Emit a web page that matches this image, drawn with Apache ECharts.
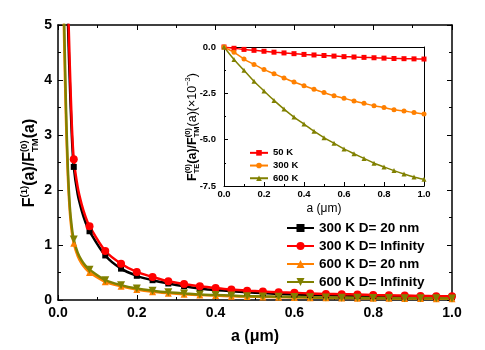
<!DOCTYPE html>
<html>
<head>
<meta charset="utf-8">
<script src="https://cdn.jsdelivr.net/npm/echarts@6/dist/echarts.min.js"></script>
<style>html,body{margin:0;padding:0;background:#fff;}#c{width:485px;height:350px;}</style>
</head>
<body>
<div id="c"></div>
<script>
// ---- main plot data ----
const markerX = [0.04,0.08,0.12,0.16,0.20,0.24,0.28,0.32,0.36,0.40,0.44,0.48,0.52,0.56,0.60,0.64,0.68,0.72,0.76,0.80,0.84,0.88,0.92,0.96,1.00];
const black20nm = [2.42,1.25,0.81,0.57,0.44,0.36,0.30,0.25,0.21,0.18,0.16,0.14,0.125,0.11,0.10,0.09,0.085,0.08,0.075,0.07,0.065,0.06,0.055,0.05,0.048];
const red300Inf = [2.56,1.34,0.89,0.66,0.51,0.42,0.34,0.29,0.25,0.22,0.19,0.17,0.155,0.14,0.13,0.12,0.11,0.105,0.10,0.09,0.085,0.08,0.075,0.07,0.066];
const orange20nm = [1.03,0.50,0.33,0.25,0.19,0.15,0.125,0.105,0.09,0.08,0.07,0.062,0.056,0.05,0.046,0.042,0.039,0.036,0.034,0.032,0.030,0.028,0.026,0.025,0.024];
const olive600Inf = [1.10,0.55,0.36,0.27,0.21,0.17,0.14,0.12,0.10,0.09,0.08,0.07,0.065,0.06,0.055,0.05,0.045,0.043,0.04,0.037,0.035,0.033,0.031,0.03,0.028];
// extra line-only points (steep rise near a = 0, and between first markers)
const blackHeadX = [0.024,0.027,0.03,0.035,0.05,0.06,0.07];
const blackHeadY = [5.4,4.6,3.95,3.0,1.92,1.63,1.41];
const redHeadX = [0.024,0.027,0.03,0.035,0.05,0.06,0.07];
const redHeadY = [5.7,5.0,4.25,3.2,2.05,1.74,1.51];
const orangeHeadX = [0.014,0.016,0.02,0.025,0.03,0.035,0.05,0.06,0.07];
const orangeHeadY = [5.3,4.6,3.35,2.25,1.6,1.24,0.80,0.66,0.57];
const oliveHeadX = [0.014,0.016,0.02,0.025,0.03,0.035,0.05,0.06,0.07];
const oliveHeadY = [5.6,4.95,3.6,2.4,1.7,1.33,0.86,0.72,0.62];
const mainNames = ['300 K D= 20 nm','300 K D= Infinity','600 K D= 20 nm','600 K D= Infinity'];

// ---- inset data ----
const insetX = [0,0.05,0.10,0.15,0.20,0.25,0.30,0.35,0.40,0.45,0.50,0.55,0.60,0.65,0.70,0.75,0.80,0.85,0.90,0.95,1.00];
const inset50K = [0,-0.07,-0.13,-0.18,-0.23,-0.28,-0.32,-0.36,-0.40,-0.43,-0.46,-0.49,-0.52,-0.54,-0.56,-0.58,-0.60,-0.62,-0.63,-0.64,-0.65];
const inset300K = [0,-0.29,-0.65,-0.94,-1.22,-1.44,-1.67,-1.89,-2.09,-2.28,-2.46,-2.63,-2.77,-2.91,-3.04,-3.17,-3.27,-3.38,-3.45,-3.54,-3.62];
const inset600K = [0,-0.67,-1.26,-1.85,-2.37,-2.88,-3.35,-3.78,-4.16,-4.54,-4.89,-5.19,-5.50,-5.76,-6.01,-6.27,-6.47,-6.67,-6.85,-7.01,-7.14];
const insetNames = ['50 K','300 K','600 K'];

const FONT = "'Liberation Sans', Arial, Helvetica, sans-serif";

function buildMain(mx, my, hx, hy) {
  const pts = [];
  for (let i = 0; i < hx.length; i++) pts.push({value:[hx[i], hy[i]], symbol:'none'});
  for (let i = 0; i < mx.length; i++) pts.push({value:[mx[i], my[i]]});
  pts.sort((a,b) => a.value[0] - b.value[0]);
  return pts;
}
function zipXY(xs, ys){ return xs.map((x,i)=>[x, ys[i]]); }

const chart = echarts.init(document.getElementById('c'), null, {renderer:'canvas'});

const mainSeriesDefs = [
  {name: mainNames[0], color:'#000000', symbol:'rect', size:6, rot:0, data: buildMain(markerX, black20nm, blackHeadX, blackHeadY)},
  {name: mainNames[1], color:'#ff0000', symbol:'circle', size:8, rot:0, data: buildMain(markerX, red300Inf, redHeadX, redHeadY)},
  {name: mainNames[2], color:'#ff8000', symbol:'triangle', size:7, rot:0, data: buildMain(markerX, orange20nm, orangeHeadX, orangeHeadY)},
  {name: mainNames[3], color:'#808000', symbol:'triangle', size:8, rot:180, data: buildMain(markerX, olive600Inf, oliveHeadX, oliveHeadY)}
];
const insetSeriesDefs = [
  {name: insetNames[0], color:'#ff0000', symbol:'rect', size:5, rot:0, data: zipXY(insetX, inset50K)},
  {name: insetNames[1], color:'#ff8000', symbol:'circle', size:5, rot:0, data: zipXY(insetX, inset300K)},
  {name: insetNames[2], color:'#808000', symbol:'triangle', size:5, rot:0, data: zipXY(insetX, inset600K)}
];

const series = [];
mainSeriesDefs.forEach(d => series.push({
  type:'line', name:d.name, xAxisIndex:0, yAxisIndex:0, data:d.data,
  smooth:0.3, symbol:d.symbol, symbolSize:d.size, symbolRotate:d.rot,
  showSymbol:true, clip:true,
  lineStyle:{color:d.color, width:2.5}, itemStyle:{color:d.color}
}));
insetSeriesDefs.forEach(d => series.push({
  type:'line', name:d.name, xAxisIndex:2, yAxisIndex:2, data:d.data,
  smooth:0.3, symbol:d.symbol, symbolSize:d.size, symbolRotate:d.rot,
  showSymbol:true, clip:true,
  lineStyle:{color:d.color, width:1.5}, itemStyle:{color:d.color}
}));

function mirrorX(gridIndex, pos, interval, lw, showTicks) {
  return {type:'value', gridIndex, position:pos, min:0, max:1, interval,
    axisLine:{show:true, onZero:false, lineStyle:{color:'#000', width:lw}},
    axisTick:{show:showTicks, inside:true, length:5, lineStyle:{color:'#000', width:1}},
    minorTick:{show:showTicks, splitNumber:2, length:3, lineStyle:{color:'#000', width:1}},
    axisLabel:{show:false}, splitLine:{show:false}};
}

const option = {
  animation:false,
  backgroundColor:'#ffffff',
  grid:[
    {left:58, top:25, width:394, height:282, show:false},
    {left:224, top:47, width:200, height:139, show:false}
  ],
  xAxis:[
    {type:'value', gridIndex:0, position:'bottom', min:0, max:1, interval:0.2,
      axisLine:{show:true, onZero:false, lineStyle:{color:'#000', width:1.5}},
      axisTick:{show:true, inside:true, length:5, lineStyle:{color:'#000', width:1}},
      minorTick:{show:true, splitNumber:2, length:3, lineStyle:{color:'#000', width:1}},
      splitLine:{show:false},
      axisLabel:{show:true, margin:6, color:'#000', fontFamily:FONT, fontWeight:'bold', fontSize:14,
        formatter: v => v.toFixed(1)},
      name:'a (μm)', nameLocation:'middle', nameGap:29,
      nameTextStyle:{color:'#000', fontFamily:FONT, fontWeight:'bold', fontSize:16}},
    mirrorX(0, 'top', 0.2, 1.5, true),
    {type:'value', gridIndex:1, position:'bottom', min:0, max:1, interval:0.2,
      axisLine:{show:true, onZero:false, lineStyle:{color:'#000', width:1}},
      axisTick:{show:true, inside:true, length:4, lineStyle:{color:'#000', width:1}},
      minorTick:{show:true, splitNumber:2, length:2, lineStyle:{color:'#000', width:1}},
      splitLine:{show:false},
      axisLabel:{show:true, margin:3, color:'#000', fontFamily:FONT, fontWeight:'bold', fontSize:9.5,
        formatter: v => v.toFixed(1)},
      name:'a (μm)', nameLocation:'middle', nameGap:17,
      nameTextStyle:{color:'#000', fontFamily:FONT, fontWeight:'normal', fontSize:12}},
    mirrorX(1, 'top', 0.2, 1, false)
  ],
  yAxis:[
    {type:'value', gridIndex:0, position:'left', min:0, max:5, interval:1,
      axisLine:{show:true, onZero:false, lineStyle:{color:'#000', width:1.5}},
      axisTick:{show:true, inside:true, length:5, lineStyle:{color:'#000', width:1}},
      minorTick:{show:true, splitNumber:2, length:3, lineStyle:{color:'#000', width:1}},
      splitLine:{show:false},
      axisLabel:{show:true, margin:6, color:'#000', fontFamily:FONT, fontWeight:'bold', fontSize:14}},
    {type:'value', gridIndex:0, position:'right', min:0, max:5, interval:1,
      axisLine:{show:true, onZero:false, lineStyle:{color:'#000', width:1.5}},
      axisTick:{show:true, inside:true, length:5, lineStyle:{color:'#000', width:1}},
      minorTick:{show:true, splitNumber:2, length:3, lineStyle:{color:'#000', width:1}},
      splitLine:{show:false}, axisLabel:{show:false}},
    {type:'value', gridIndex:1, position:'left', min:-7.5, max:0, interval:2.5,
      axisLine:{show:true, onZero:false, lineStyle:{color:'#000', width:1}},
      axisTick:{show:true, inside:true, length:4, lineStyle:{color:'#000', width:1}},
      minorTick:{show:true, splitNumber:2, length:2, lineStyle:{color:'#000', width:1}},
      splitLine:{show:false},
      axisLabel:{show:true, margin:8, color:'#000', fontFamily:FONT, fontWeight:'bold', fontSize:9.5,
        formatter: v => v.toFixed(1)}},
    {type:'value', gridIndex:1, position:'right', min:-7.5, max:0, interval:2.5,
      axisLine:{show:true, onZero:false, lineStyle:{color:'#000', width:1}},
      axisTick:{show:false}, splitLine:{show:false}, axisLabel:{show:false}}
  ],
  legend:[
    {data: mainNames, orient:'vertical', left:281, top:215, itemWidth:27, itemHeight:10, itemGap:2,
      textStyle:{color:'#000', fontFamily:FONT, fontWeight:'bold', fontSize:13.5, lineHeight:16},
      selectedMode:false},
    {data: insetNames, orient:'vertical', left:244, top:142, itemWidth:18, itemHeight:7, itemGap:1,
      textStyle:{color:'#000', fontFamily:FONT, fontWeight:'bold', fontSize:9.5, lineHeight:11.7},
      selectedMode:false, z:10}
  ],
  series: series
};
chart.setOption(option);

// ---- rotated axis titles with super/subscripts ----
const mctx = document.createElement('canvas').getContext('2d');
function measure(t, size, weight) { mctx.font = weight + ' ' + size + 'px ' + FONT; return mctx.measureText(t).width; }
function buildTitle(segs, cx, cy) {
  let total = 0;
  const widths = segs.map(s => {
    if (s.t !== undefined) return measure(s.t, s.size, s.w);
    return Math.max(s.sup ? measure(s.sup, s.size, s.w) : 0, s.sub ? measure(s.sub, s.size, s.w) : 0);
  });
  widths.forEach(w => total += w);
  let x = -total / 2;
  const children = [];
  segs.forEach((s, i) => {
    const mk = (text, dy) => ({type:'text', x:x, y:dy,
      style:{text:text, font: s.w + ' ' + s.size + 'px ' + FONT, fill:'#000', align:'left', verticalAlign:'middle'}});
    if (s.t !== undefined) children.push(mk(s.t, s.dy || 0));
    else { if (s.sup) children.push(mk(s.sup, s.supDy)); if (s.sub) children.push(mk(s.sub, s.subDy)); }
    x += widths[i];
  });
  return {type:'group', x:cx, y:cy, rotation:Math.PI/2, children, z:100};
}
const B = 16, S = 9.5;
const mainTitle = buildTitle([
  {t:'F', size:B, w:'bold'},
  {sup:'(1)', size:S, w:'bold', supDy:-6},
  {t:'(a)/F', size:B, w:'bold'},
  {sup:'(0)', sub:'TM', size:S, w:'bold', supDy:-6, subDy:5},
  {t:'(a)', size:B, w:'bold'}
], 30, 163);
const b2 = 12.5, s2 = 7.5;
const insetTitle = buildTitle([
  {t:'F', size:b2, w:'bold'},
  {sup:'(0)', sub:'TE', size:s2, w:'bold', supDy:-5, subDy:4},
  {t:'(a)/F', size:b2, w:'bold'},
  {sup:'(0)', sub:'TM', size:s2, w:'bold', supDy:-5, subDy:4},
  {t:'(a)(×10', size:b2, w:'normal'},
  {sup:'−3', size:s2, w:'normal', supDy:-5},
  {t:')', size:b2, w:'normal'}
], 193, 127);
chart.setOption({graphic:[mainTitle, insetTitle]});
</script>
</body>
</html>
